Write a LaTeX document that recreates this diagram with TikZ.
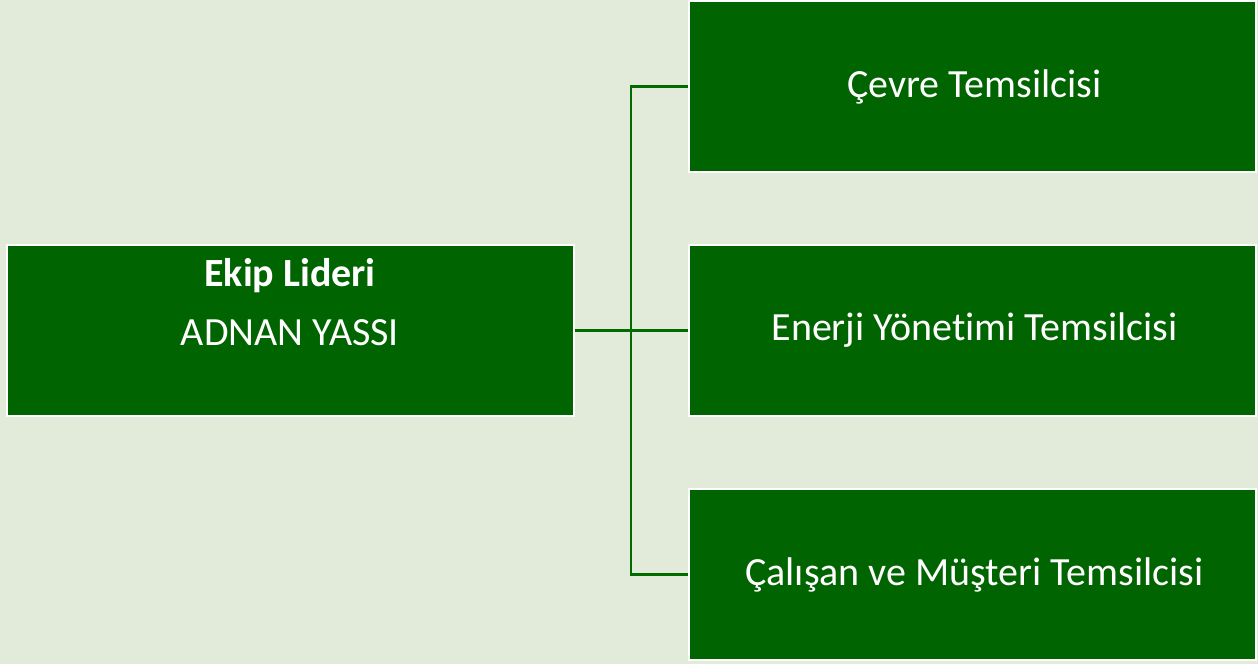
\documentclass[tikz,border=0pt]{standalone}
\usepackage{fontspec}
\setmainfont{Carlito}[RawFeature={-liga;-clig;-calt;-dlig}]
\usepackage{tikz}
\usetikzlibrary{calc}
\definecolor{bggreen}{RGB}{226,235,218}
\definecolor{boxgreen}{RGB}{0,100,0}
\definecolor{linegreen}{RGB}{0,108,0}
\tikzset{
    rolebox/.style={draw=white, line width=2pt, fill=boxgreen, text=white,
        minimum width=567pt, minimum height=171pt, inner sep=0pt,
        font=\fontsize{40}{48}\selectfont},
    conn/.style={draw=linegreen, line width=2.2pt}
}

\begin{document}
\begin{tikzpicture}[x=1pt, y=-1pt]
    \fill[bggreen] (0, 0) rectangle (1258, 664);
    \useasboundingbox (0, 0) rectangle (1258, 664);
    \node[rolebox] (lider) at (290, 330.5) {\parbox[c][171pt][t]{560pt}{\centering
        \vspace*{13pt}\textbf{Ekip Lideri}\\[11pt]ADNAN YASSI}};
    \node[rolebox] (cevre) at (972, 86.5) {\hspace*{5pt}Çevre Temsilcisi};
    \node[rolebox] (enerji) at (972, 330.5) {\hspace*{5pt}Enerji Yönetimi Temsilcisi};
    \node[rolebox] (calisan) at (972, 574.5) {\hspace*{5pt}Çalışan ve Müşteri Temsilcisi};
    \coordinate (bus) at ($(lider.east)!0.5!(enerji.west)$);
    \draw[conn] (lider.east) -- (enerji.west);
    \draw[conn] (cevre.west) -| (bus) |- (calisan.west);
\end{tikzpicture}
\end{document}
